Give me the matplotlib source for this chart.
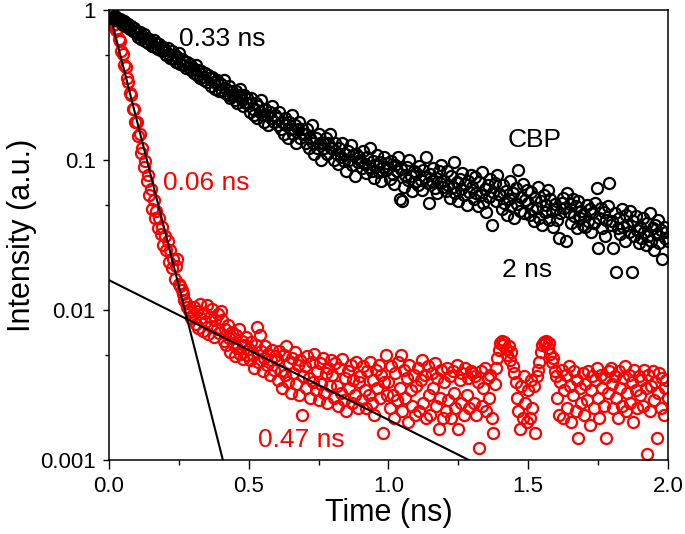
import numpy as np
import matplotlib
matplotlib.use('Agg')
from matplotlib import pyplot as plt
from matplotlib.ticker import FixedLocator, FixedFormatter

plt.rcParams['font.family'] = ['Liberation Sans', 'DejaVu Sans']

# channel width of the decay traces (ns)
t_step = 0.005

# CBP (black) decay, one row per 0.1 ns
cbp = [
    0.88, 0.94, 0.96, 0.90, 0.92, 0.86, 0.89, 0.84, 0.87, 0.85, 0.80, 0.84, 0.79, 0.77, 0.81, 0.75, 0.78, 0.73, 0.76, 0.72,
    0.70, 0.66, 0.71, 0.64, 0.67, 0.69, 0.62, 0.65, 0.60, 0.64, 0.61, 0.58, 0.63, 0.57, 0.60, 0.55, 0.59, 0.56, 0.53, 0.57,
    0.54, 0.50, 0.56, 0.51, 0.48, 0.53, 0.47, 0.50, 0.45, 0.49, 0.52, 0.44, 0.47, 0.43, 0.46, 0.41, 0.45, 0.42, 0.44, 0.40,
    0.41, 0.38, 0.43, 0.37, 0.40, 0.35, 0.39, 0.36, 0.34, 0.38, 0.33, 0.37, 0.35, 0.31, 0.36, 0.33, 0.30, 0.34, 0.32, 0.29,
    0.32, 0.29, 0.34, 0.28, 0.30, 0.27, 0.31, 0.26, 0.29, 0.27, 0.25, 0.29, 0.24, 0.27, 0.30, 0.25, 0.23, 0.27, 0.24, 0.26,
    0.24, 0.21, 0.26, 0.22, 0.20, 0.24, 0.19, 0.23, 0.21, 0.25, 0.20, 0.18, 0.22, 0.20, 0.17, 0.21, 0.19, 0.23, 0.18, 0.20,
    0.19, 0.17, 0.21, 0.16, 0.18, 0.15, 0.19, 0.17, 0.14, 0.18, 0.16, 0.20, 0.15, 0.17, 0.13, 0.16, 0.18, 0.14, 0.16, 0.15,
    0.15, 0.13, 0.16, 0.12, 0.14, 0.17, 0.13, 0.11, 0.14, 0.12, 0.15, 0.13, 0.10, 0.13, 0.12, 0.14, 0.11, 0.13, 0.15, 0.12,
    0.12, 0.10, 0.13, 0.11, 0.094, 0.12, 0.105, 0.13, 0.098, 0.11, 0.085, 0.115, 0.10, 0.125, 0.092, 0.108, 0.078, 0.11, 0.097, 0.104,
    0.10, 0.089, 0.115, 0.094, 0.082, 0.105, 0.09, 0.12, 0.085, 0.099, 0.076, 0.093, 0.108, 0.083, 0.097, 0.072, 0.09, 0.104, 0.086, 0.095,
    0.088, 0.075, 0.098, 0.081, 0.069, 0.092, 0.084, 0.105, 0.055, 0.087, 0.053, 0.066, 0.08, 0.09, 0.074, 0.1, 0.078, 0.062, 0.085, 0.071,
    0.082, 0.068, 0.091, 0.074, 0.063, 0.086, 0.077, 0.104, 0.07, 0.052, 0.081, 0.072, 0.089, 0.065, 0.076, 0.06, 0.084, 0.07, 0.093, 0.066,
    0.073, 0.062, 0.085, 0.068, 0.056, 0.078, 0.066, 0.097, 0.06, 0.071, 0.053, 0.075, 0.064, 0.082, 0.058, 0.069, 0.05, 0.072, 0.061, 0.079,
    0.066, 0.055, 0.077, 0.06, 0.049, 0.071, 0.058, 0.083, 0.052, 0.064, 0.045, 0.068, 0.057, 0.075, 0.037, 0.061, 0.07, 0.053, 0.08, 0.059,
    0.058, 0.047, 0.068, 0.052, 0.062, 0.043, 0.055, 0.073, 0.049, 0.06, 0.041, 0.065, 0.051, 0.086, 0.046, 0.057, 0.069, 0.044, 0.054, 0.063,
    0.052, 0.043, 0.061, 0.047, 0.039, 0.056, 0.048, 0.066, 0.041, 0.053, 0.037, 0.058, 0.045, 0.05, 0.063, 0.04, 0.055, 0.046, 0.036, 0.051,
    0.047, 0.04, 0.03, 0.044, 0.052, 0.056, 0.048, 0.029, 0.06, 0.045, 0.051, 0.038, 0.055, 0.042, 0.049, 0.035, 0.053, 0.041, 0.046, 0.037,
    0.043, 0.036, 0.05, 0.039, 0.047, 0.033, 0.044, 0.038, 0.052, 0.065, 0.026, 0.041, 0.048, 0.035, 0.045, 0.031, 0.04, 0.049, 0.07, 0.037,
    0.039, 0.026, 0.044, 0.018, 0.035, 0.041, 0.032, 0.047, 0.036, 0.029, 0.043, 0.037, 0.033, 0.046, 0.018, 0.039, 0.031, 0.042, 0.034, 0.028,
    0.036, 0.03, 0.041, 0.033, 0.027, 0.038, 0.031, 0.044, 0.029, 0.035, 0.025, 0.037, 0.032, 0.04, 0.028, 0.034, 0.022, 0.036, 0.03, 0.033,
    0.029,
]

# red trace (the doped film), same channels
red = [
    0.86, 0.84, 0.85, 0.80, 0.81, 0.74, 0.75, 0.64, 0.62, 0.53, 0.51, 0.43, 0.42, 0.35, 0.33, 0.28, 0.27, 0.22, 0.22, 0.18,
    0.180, 0.145, 0.150, 0.112, 0.120, 0.090, 0.098, 0.072, 0.080, 0.058, 0.064, 0.047, 0.054, 0.041, 0.046, 0.035, 0.041, 0.032, 0.036, 0.027,
    0.031, 0.025, 0.029, 0.021, 0.025, 0.019, 0.022, 0.016, 0.0195, 0.022, 0.015, 0.0145, 0.0135, 0.0128, 0.0117, 0.0112, 0.0104, 0.0100, 0.0097, 0.0088,
    0.0092, 0.0105, 0.0081, 0.0098, 0.0076, 0.0110, 0.0088, 0.0072, 0.0095, 0.0083, 0.0107, 0.0069, 0.0090, 0.0078, 0.0101, 0.0066, 0.0085, 0.0074, 0.0094, 0.0070,
    0.0098, 0.0085, 0.0062, 0.0074, 0.0058, 0.0079, 0.0065, 0.0052, 0.0071, 0.0060, 0.0049, 0.0068, 0.0056, 0.0075, 0.0051, 0.0062, 0.0047, 0.0058, 0.0066, 0.0050,
    0.0055, 0.0046, 0.0061, 0.0050, 0.0041, 0.0058, 0.0077, 0.0045, 0.0068, 0.0053, 0.0039, 0.0048, 0.0057, 0.0043, 0.0051, 0.0037, 0.0046, 0.0054, 0.0040, 0.0049,
    0.0047, 0.0034, 0.0053, 0.0039, 0.0030, 0.0050, 0.0037, 0.0057, 0.0033, 0.0044, 0.0028, 0.0048, 0.0038, 0.0052, 0.0032, 0.0043, 0.0027, 0.0046, 0.0020, 0.0036,
    0.0042, 0.0030, 0.0049, 0.0035, 0.0026, 0.0045, 0.0033, 0.0051, 0.0029, 0.0039, 0.0025, 0.0044, 0.0032, 0.0048, 0.0028, 0.0038, 0.0024, 0.0041, 0.0031, 0.0046,
    0.0037, 0.0026, 0.0044, 0.0031, 0.0023, 0.0041, 0.0028, 0.0047, 0.0025, 0.0035, 0.0021, 0.0039, 0.0030, 0.0043, 0.0024, 0.0034, 0.0027, 0.0045, 0.0022, 0.0033,
    0.0036, 0.0025, 0.0042, 0.0029, 0.0022, 0.0039, 0.0027, 0.0045, 0.0024, 0.0034, 0.0020, 0.0040, 0.0030, 0.0043, 0.0026, 0.0037, 0.0015, 0.0033, 0.0050, 0.0027,
    0.0033, 0.0022, 0.0042, 0.0027, 0.0019, 0.0038, 0.0025, 0.0045, 0.0030, 0.0050, 0.0021, 0.0040, 0.0026, 0.0035, 0.0018, 0.0043, 0.0029, 0.0023, 0.0037, 0.0020,
    0.0031, 0.0041, 0.0021, 0.0034, 0.0046, 0.0024, 0.0037, 0.0019, 0.0042, 0.0027, 0.0020, 0.0038, 0.0030, 0.0044, 0.0023, 0.0035, 0.0016, 0.0026, 0.0040, 0.0019,
    0.0033, 0.0021, 0.0041, 0.0025, 0.0036, 0.0019, 0.0039, 0.0028, 0.0022, 0.0043, 0.0016, 0.0034, 0.0024, 0.0038, 0.0020, 0.0041, 0.0027, 0.0035, 0.0022, 0.0039,
    0.0038, 0.0024, 0.0036, 0.0020, 0.0033, 0.0012, 0.0039, 0.0023, 0.0030, 0.0041, 0.0021, 0.0035, 0.0026, 0.0037, 0.0019, 0.0015, 0.0032, 0.0041, 0.0048, 0.0054,
    0.0060, 0.0062, 0.0058, 0.0061, 0.0055, 0.0050, 0.0057, 0.0046, 0.0052, 0.0042, 0.0038, 0.0033, 0.0026, 0.0021, 0.0016, 0.0031, 0.0019, 0.0036, 0.0024, 0.0018,
    0.0029, 0.0019, 0.0034, 0.0022, 0.0031, 0.0015, 0.0036, 0.0040, 0.0045, 0.0052, 0.0058, 0.0061, 0.0059, 0.0062, 0.0056, 0.0060, 0.0051, 0.0045, 0.0048, 0.0039,
    0.0036, 0.0026, 0.0020, 0.0033, 0.0040, 0.0019, 0.0029, 0.0037, 0.0022, 0.0042, 0.0031, 0.0018, 0.0027, 0.0039, 0.0021, 0.0034, 0.0014, 0.0030, 0.0024, 0.0038,
    0.0020, 0.0032, 0.0025, 0.0039, 0.0017, 0.0029, 0.0036, 0.0022, 0.0034, 0.0041, 0.0026, 0.0019, 0.0037, 0.0030, 0.0023, 0.0035, 0.0014, 0.0028, 0.0039, 0.0041,
    0.0032, 0.0022, 0.0036, 0.0026, 0.0019, 0.0039, 0.0030, 0.0023, 0.0035, 0.0042, 0.0021, 0.0028, 0.0037, 0.0024, 0.0033, 0.0018, 0.0040, 0.0029, 0.0022, 0.0036,
    0.0027, 0.0034, 0.0023, 0.0040, 0.0030, 0.0011, 0.0037, 0.0021, 0.0031, 0.0039, 0.0025, 0.0033, 0.0014, 0.0028, 0.0038, 0.0022, 0.0035, 0.0020, 0.0030, 0.0034,
    0.0026,
]

# exponential fits drawn as straight lines: amplitude, lifetime (ns), end time (ns)
fit_fast = (1.0, 0.059, 0.42)
fit_slow = (0.0158, 0.466, 1.30)

# annotations: text, x (ns), y, colour
labels = [
    ('0.33 ns', 0.25, 0.58, 'black'),
    ('0.06 ns', 0.193, 0.063, 'red'),
    ('0.47 ns', 0.532, 0.00122, 'red'),
    ('CBP', 1.425, 0.122, 'black'),
    ('2 ns', 1.407, 0.0166, 'black'),
]

t_cbp = t_step * np.arange(len(cbp))
t_red = t_step * np.arange(len(red))

fig = plt.figure(figsize=(6.85, 5.34), dpi=100)
ax = fig.add_axes([0.159, 0.139, 0.816, 0.842])

ax.plot(t_red, red, 'o', mfc='none', mec='red', ms=8, mew=1.6)
ax.plot(t_cbp, cbp, 'o', mfc='none', mec='black', ms=8, mew=1.6)

for A, tau, t_end in (fit_fast, fit_slow):
    _t = np.linspace(0, t_end, 200)
    ax.plot(_t, A * np.exp(-_t / tau), '-', color='black', lw=1.5)

for txt, x, y, c in labels:
    ax.text(x, y, txt, color=c, fontsize=19, ha='left', va='baseline')

ax.set_yscale('log')
ax.set_xlim(0, 2)
ax.set_ylim(0.001, 1)

ax.xaxis.set_major_locator(FixedLocator([0, 0.5, 1.0, 1.5, 2.0]))
ax.xaxis.set_minor_locator(FixedLocator([0.25, 0.75, 1.25, 1.75]))
ax.set_xticklabels(['0.0', '0.5', '1.0', '1.5', '2.0'])
ax.yaxis.set_major_locator(FixedLocator([0.001, 0.01, 0.1, 1]))
ax.yaxis.set_major_formatter(FixedFormatter(['0.001', '0.01', '0.1', '1']))
ax.yaxis.set_minor_locator(FixedLocator([0.005, 0.05, 0.5]))
ax.yaxis.set_minor_formatter(FixedFormatter(['', '', '']))

ax.tick_params(axis='x', which='major', direction='out', length=6.5, width=1.0, labelsize=16, pad=5)
ax.tick_params(axis='x', which='minor', direction='out', length=3.5, width=1.0)
ax.tick_params(axis='y', which='major', direction='out', length=4.5, width=1.0, labelsize=16, pad=5)
ax.tick_params(axis='y', which='minor', direction='out', length=3, width=1.0)
ax.tick_params(top=False, right=False, which='both')
for s in ax.spines.values():
    s.set_linewidth(1.1)

ax.set_xlabel('Time (ns)', fontsize=22, labelpad=1)
ax.set_ylabel('Intensity (a.u.)', fontsize=22, labelpad=2)

fig.savefig('out.png', dpi=100)
